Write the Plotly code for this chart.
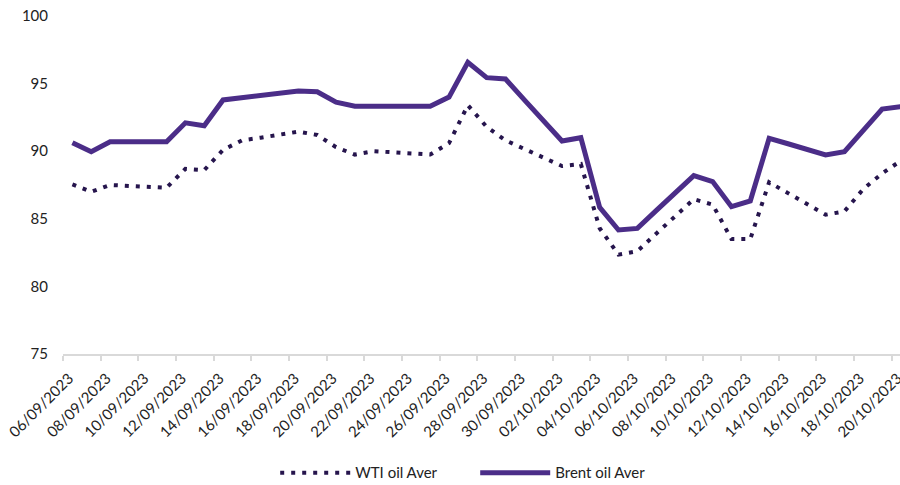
import plotly.graph_objects as go

dates = [
    "06/09/2023", "07/09/2023", "08/09/2023", "09/09/2023", "10/09/2023",
    "11/09/2023", "12/09/2023", "13/09/2023", "14/09/2023", "15/09/2023",
    "16/09/2023", "17/09/2023", "18/09/2023", "19/09/2023", "20/09/2023",
    "21/09/2023", "22/09/2023", "23/09/2023", "24/09/2023", "25/09/2023",
    "26/09/2023", "27/09/2023", "28/09/2023", "29/09/2023", "30/09/2023",
    "01/10/2023", "02/10/2023", "03/10/2023", "04/10/2023", "05/10/2023",
    "06/10/2023", "07/10/2023", "08/10/2023", "09/10/2023", "10/10/2023",
    "11/10/2023", "12/10/2023", "13/10/2023", "14/10/2023", "15/10/2023",
    "16/10/2023", "17/10/2023", "18/10/2023", "19/10/2023", "20/10/2023",
]

wti = [
    87.55, 87.0, 87.5, 87.43, 87.37, 87.3, 88.7, 88.6, 90.1, 90.8,
    91.0, 91.2, 91.45, 91.2, 90.3, 89.75, 90.0, 89.92, 89.83, 89.75,
    90.6, 93.4, 91.8, 90.8, 90.17, 89.53, 88.9, 89.05, 84.3, 82.35,
    82.6, 83.9, 85.15, 86.45, 86.05, 83.5, 83.5, 87.7, 86.9, 86.1,
    85.3, 85.55, 87.2, 88.35, 89.3,
]

brent = [
    90.63, 89.96, 90.7, 90.7, 90.7, 90.7, 92.1, 91.88, 93.79, 93.95,
    94.1, 94.25, 94.45, 94.4, 93.62, 93.32, 93.3, 93.3, 93.3, 93.32,
    94.0, 96.57, 95.44, 95.34, 93.8, 92.27, 90.75, 91.0, 85.85, 84.17,
    84.29, 85.6, 86.9, 88.19, 87.75, 85.9, 86.32, 90.95, 90.55, 90.15,
    89.72, 89.96, 91.55, 93.12, 93.3,
]

y_ticks = [75, 80, 85, 90, 95, 100]

idx = list(range(len(dates)))
tick_pos = [i - 0.5 for i in idx if i % 2 == 0]
tick_txt = [dates[i] for i in idx if i % 2 == 0]

fig = go.Figure()
fig.add_trace(go.Scatter(
    x=idx, y=wti, mode="lines", name="WTI oil Aver",
    line=dict(color="#26154D", width=4, dash="4px,7px"),
))
fig.add_trace(go.Scatter(
    x=idx, y=brent, mode="lines", name="Brent oil Aver",
    line=dict(color="#4B2D88", width=5),
))

font_family = "Lato, 'Open Sans', sans-serif"
fig.update_layout(
    width=900, height=485,
    margin=dict(l=63, r=0, t=16, b=131, autoexpand=False),
    paper_bgcolor="white", plot_bgcolor="white",
    font=dict(family=font_family, size=15, color="#222222"),
    showlegend=True,
    legend=dict(
        orientation="h", x=0.528, xanchor="center", xref="container",
        y=0.025, yanchor="middle", yref="container",
        font=dict(size=15, color="#222222"),
        itemwidth=70, tracegroupgap=0, entrywidth=115,
    ),
    xaxis=dict(
        range=[-0.5, 43.95], tickmode="array", automargin=False,
        tickvals=tick_pos, ticktext=tick_txt, tickangle=-45,
        ticklabeloverflow="allow", ticklabelshift=6, ticklabelstandoff=3,
        showgrid=False, zeroline=False,
        showline=True, linecolor="#D9D9D9", linewidth=1.5,
        ticks="outside", ticklen=5, tickcolor="#D9D9D9", tickwidth=1.5,
        tickfont=dict(size=15, color="#222222"),
    ),
    yaxis=dict(
        range=[75, 100], tickmode="array", tickvals=y_ticks, automargin=False,
        showgrid=False, zeroline=False, showline=False,
        ticks="", ticklabelstandoff=14,
        tickfont=dict(size=15, color="#222222"),
    ),
)

fig.write_html(
    "out.html",
    config={"displayModeBar": False},
    post_script="document.body.style.margin='0';document.body.style.overflow='hidden';",
)
